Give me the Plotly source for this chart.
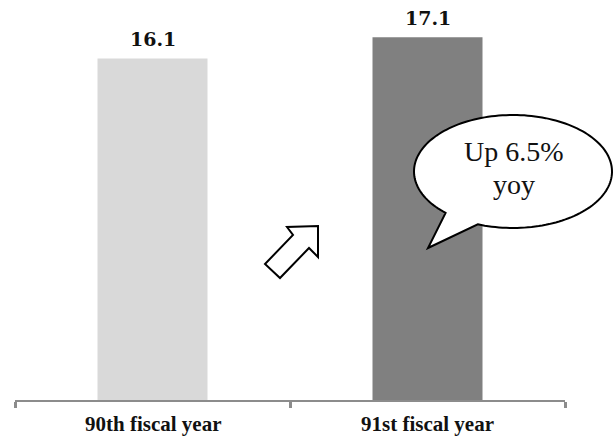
import math
import plotly.graph_objects as go

# Data
categories = ["90th fiscal year", "91st fiscal year"]
values = [16.1, 17.1]
bar_colors = ["#d9d9d9", "#808080"]
callout_lines = ["Up 6.5%", "yoy"]

W, H = 614, 439
M_L, M_R, M_T, M_B = 15, 49, 10, 39
Y_MAX = 18.38


def px(x, y):
    """Convert page pixel coordinates to paper coordinates."""
    pw = W - M_L - M_R
    ph = H - M_T - M_B
    return (x - M_L) / pw, (H - M_B - y) / ph


def path_from(points, close=True):
    segs = []
    for i, (x, y) in enumerate(points):
        u, v = px(x, y)
        segs.append(("M" if i == 0 else "L") + f"{u:.5f},{v:.5f}")
    return " ".join(segs) + (" Z" if close else "")


fig = go.Figure(
    go.Bar(
        x=categories,
        y=values,
        marker=dict(color=bar_colors, line=dict(width=0)),
        width=0.4,
        hoverinfo="skip",
    )
)

# Value labels above the bars
for c, v in zip(categories, values):
    fig.add_annotation(
        x=c, y=v, text=f"<b>{v:.1f}</b>", showarrow=False,
        yanchor="bottom", yshift=6,
        font=dict(family="DejaVu Serif", size=19, color="#111111"),
    )

# Category labels under the axis
for c in categories:
    fig.add_annotation(
        x=c, y=0, xref="x", yref="paper", text=f"<b>{c}</b>",
        showarrow=False, yanchor="top", yshift=-10,
        font=dict(family="Liberation Serif", size=21, color="#111111"),
    )

# Outlined arrow pointing up-right
arrow_pts = [(318, 226), (318, 257), (309, 248), (280, 278),
             (265, 264), (293, 235), (287, 227)]
fig.add_shape(type="path", xref="paper", yref="paper",
              path=path_from(arrow_pts),
              fillcolor="white", line=dict(color="black", width=2))

# Speech bubble: ellipse body with a tail
cx, cy, rx, ry = 513, 171.5, 99, 56.5
a_left = math.atan2((212 - cy) / ry, (447 - cx) / rx)
a_right = math.atan2((224 - cy) / ry, (478 - cx) / rx)
# go the long way round the ellipse, from the tail's right base to its left base
span = (a_right - a_left) % (2 * math.pi)
bubble = []
n = 160
for i in range(n + 1):
    t = a_right - span * i / n
    bubble.append((cx + rx * math.cos(t), cy + ry * math.sin(t)))
bubble.append((428, 248))
fig.add_shape(type="path", xref="paper", yref="paper",
              path=path_from(bubble),
              fillcolor="white", line=dict(color="black", width=2))

u1, v1 = px(514, 151)
u2, v2 = px(514, 185)
for (u, v), line in zip([(u1, v1), (u2, v2)], callout_lines):
    fig.add_annotation(x=u, y=v, xref="paper", yref="paper", text=line,
                       showarrow=False, xanchor="center", yanchor="middle",
                       font=dict(family="Liberation Serif", size=28,
                                 color="#111111"))

fig.update_layout(
    width=W, height=H,
    margin=dict(l=M_L, r=M_R, t=M_T, b=M_B),
    paper_bgcolor="white", plot_bgcolor="white",
    showlegend=False,
    bargap=0.6,
    xaxis=dict(
        type="category", range=[-0.5, 1.5],
        showline=True, linecolor="#8c8c8c", linewidth=2,
        ticks="outside", tickson="boundaries", ticklen=6, tickwidth=3,
        tickcolor="#8c8c8c", showgrid=False, zeroline=False,
        showticklabels=False,
    ),
    yaxis=dict(range=[0, Y_MAX], visible=False, showgrid=False),
)

fig.write_html("out.html")
